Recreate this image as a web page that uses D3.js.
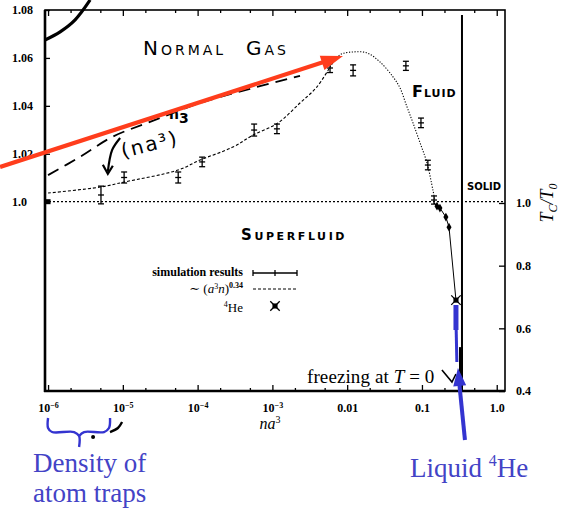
<!DOCTYPE html>
<html>
<head>
<meta charset="utf-8">
<script src="https://cdn.jsdelivr.net/npm/d3@7"></script>
<style>
  body { margin: 0; background: #fff; }
  svg { display: block; }
</style>
</head>
<body>
<svg id="chart" width="574" height="512"></svg>
<script>
// ---- data (x = n a^3, y = Tc/T0) ----
var decades = [1e-6, 1e-5, 1e-4, 1e-3, 0.01, 0.1, 1];
var xTickBase = ["10", "10", "10", "10", "0.01", "0.1", "1.0"];
var xTickExp = ["\u22126", "\u22125", "\u22124", "\u22123", "", "", ""];
var leftTicks = [1.0, 1.02, 1.04, 1.06, 1.08];
var rightTicks = [0.4, 0.6, 0.8, 1.0];

// simulation results (left axis)
var simX = [5.1e-6, 1.04e-5, 5.5e-5, 1.15e-4, 5.7e-4, 1.15e-3, 5.9e-3, 0.012, 0.061, 0.097, 0.12, 0.145];
var simY = [1.0028, 1.0101, 1.0101, 1.0166, 1.0299, 1.0304, 1.0558, 1.0548, 1.0567, 1.0329, 1.0153, 1.0007];
var simErr = [0.0037, 0.0023, 0.0023, 0.002, 0.0025, 0.002, 0.0019, 0.0023, 0.0019, 0.002, 0.002, 0.0017];
var idealX = [1e-6], idealY = [1.0];

// ~(a^3 n)^0.34 fit and its continuation (left axis)
var fitX = [1e-6, 4.96e-6, 1.04e-5, 5.47e-5, 1.08e-4, 2.97e-4, 5.5e-4, 1.19e-3, 2.34e-3, 3.94e-3, 5.9e-3,
            8.0e-3, 0.012, 0.0184, 0.0275, 0.041, 0.0508, 0.063, 0.0758, 0.0945, 0.1167, 0.140, 0.149];
var fitY = [1.0036, 1.0061, 1.0082, 1.0132, 1.0174, 1.0228, 1.0278, 1.0329, 1.0412, 1.0479, 1.0562,
            1.0613, 1.0625, 1.0621, 1.0583, 1.0521, 1.0475, 1.0396, 1.0329, 1.0245, 1.0162, 1.0049, 1.0007];
var fitSplit = 10;

// high density points (right axis), last one is 4He
var hiX = [0.145, 0.159, 0.174, 0.209, 0.23, 0.285];
var hiY = [1.0, 0.990, 0.984, 0.955, 0.923, 0.69];
var heX = [0.285], heY = [0.69];
var freezeX = 0.343;

// hand-drawn annotations, in data units
var arcX = [9.1e-7, 1.45e-6, 2.3e-6, 3.65e-6], arcY = [1.0675, 1.0709, 1.0759, 1.0842];
var handX = [1e-6, 2.68e-6, 7.18e-6, 2.31e-5, 1.08e-4, 5.02e-4, 2.34e-3];
var handY = [1.0111, 1.0187, 1.027, 1.0333, 1.0412, 1.0471, 1.0525];
var hookX = [9.2e-6, 7.2e-6, 6.3e-6], hookY = [1.0266, 1.0216, 1.0125];
var redX = [2.28e-7, 8.8e-3], redY = [1.0145, 1.0608];
// blue marks (right axis)
var blueBarX = [0.285, 0.285], blueBarY = [0.6745, 0.5947];
var blueThinX = [0.287, 0.293], blueThinY = [0.5947, 0.4926];
var blueArrowX = [0.376, 0.303], blueArrowY = [0.2436, 0.4734];
var braceX = [1e-6, 1e-6, 1.13e-6, 2.23e-6, 2.6e-6, 2.6e-6];
var braceY = [0.3138, 0.2819, 0.2691, 0.2691, 0.2564, 0.2213];
var brace2X = [2.6e-6, 3.03e-6, 5.6e-6, 6.53e-6, 6.74e-6];
var brace2Y = [0.2564, 0.2691, 0.2691, 0.2819, 0.3138];
var squiggleX = [6.74e-6, 8.6e-6, 9.77e-6], squiggleY = [0.2691, 0.282, 0.301];
var freezeArrowX = [0.185, 0.252, 0.285], freezeArrowY = [0.467, 0.4287, 0.4543];

var RED = "#ff3d1c", BLUE = "#3434d0", BLUE_TXT = "#4343c6";
var SERIF = "'Liberation Serif', 'DejaVu Serif', serif";
var HAND = "'DejaVu Sans', sans-serif";

var svg = d3.select("#chart");
svg.append("rect").attr("width", 574).attr("height", 512).attr("fill", "#fff");

// scales
var x = d3.scaleLog().domain([9.1e-7, 1.29]).range([45, 505]);
var yL = d3.scaleLinear().domain([0.921, 1.08]).range([391, 10]);
var yR = d3.scaleLinear().domain([0.4, 1.0]).range([391, 203]);

function pts(xs, ys, ys_scale) {
  return xs.map(function (v, i) { return [x(v), ys_scale(ys[i])]; });
}
var smooth = d3.line().curve(d3.curveCatmullRom);
var straight = d3.line();

function arrowHead(p0, p1, len, wid) {
  var a = Math.atan2(p1[1] - p0[1], p1[0] - p0[0]);
  var bx = p1[0] - len * Math.cos(a), by = p1[1] - len * Math.sin(a);
  var nx = -Math.sin(a) * wid / 2, ny = Math.cos(a) * wid / 2;
  return [[p1[0], p1[1]], [bx + nx, by + ny], [bx - nx, by - ny]];
}

// axes
function styleAxis(g) {
  g.select(".domain").remove();
  g.selectAll(".tick line").attr("stroke", "#000").attr("stroke-width", 1.3);
  g.attr("font-family", SERIF).attr("font-size", 12).attr("font-weight", "bold");
  g.selectAll(".tick text").attr("fill", "#000");
}
var minor = [];
decades.forEach(function (d) { [2, 5].forEach(function (m) { if (d * m < 1.29) minor.push(d * m); }); });

svg.append("g").attr("transform", "translate(0,391)")
  .call(d3.axisBottom(x).tickValues(decades).tickSize(-6).tickPadding(12).tickFormat(""))
  .call(styleAxis)
  .selectAll(".tick text").each(function (d, i) {
    var t = d3.select(this);
    t.append("tspan").text(xTickBase[i]);
    if (xTickExp[i]) t.append("tspan").attr("dy", "-0.45em").attr("font-size", 8).text(xTickExp[i]);
  });
svg.append("g").attr("transform", "translate(0,391)")
  .call(d3.axisBottom(x).tickValues(minor).tickSize(-3).tickFormat(""))
  .call(styleAxis);
svg.append("g").attr("transform", "translate(0,10)")
  .call(d3.axisTop(x).tickValues(decades).tickSize(-6).tickFormat(""))
  .call(styleAxis);
svg.append("g").attr("transform", "translate(0,10)")
  .call(d3.axisTop(x).tickValues(minor).tickSize(-3).tickFormat(""))
  .call(styleAxis);

svg.append("g").attr("transform", "translate(45,0)")
  .call(d3.axisLeft(yL).tickValues(leftTicks).tickSize(-5)
    .tickFormat(function (d) { return d === 1 ? "1.0" : d3.format(".2f")(d); }))
  .call(styleAxis)
  .selectAll(".tick text").attr("text-anchor", "start").attr("x", -33);

svg.append("g").attr("transform", "translate(505,0)")
  .call(d3.axisRight(yR).tickValues(rightTicks).tickSize(-6).tickPadding(11).tickFormat(d3.format(".1f")))
  .call(styleAxis);

// frame
svg.append("rect").attr("x", x.range()[0]).attr("y", yL.range()[1])
  .attr("width", x.range()[1] - x.range()[0]).attr("height", yL.range()[0] - yL.range()[1])
  .attr("fill", "none").attr("stroke", "#000").attr("stroke-width", 1.6);
svg.append("line").attr("x1", 45).attr("x2", 45).attr("y1", yL.range()[1]).attr("y2", 392)
  .attr("stroke", "#000").attr("stroke-width", 2.6);
svg.append("line").attr("x1", 44).attr("x2", 505).attr("y1", 391).attr("y2", 391)
  .attr("stroke", "#000").attr("stroke-width", 2.6);

// Tc/T0 = 1 reference
svg.append("line").attr("x1", 45).attr("x2", 505).attr("y1", yL(1)).attr("y2", yL(1))
  .attr("stroke", "#000").attr("stroke-width", 1.3).attr("stroke-dasharray", "2,2");

// freezing line
svg.append("line").attr("x1", x(freezeX)).attr("x2", x(freezeX)).attr("y1", yR(1.6)).attr("y2", yR(0.4))
  .attr("stroke", "#000").attr("stroke-width", 2);
svg.append("line").attr("x1", x(freezeX) - 1).attr("x2", x(freezeX) - 1).attr("y1", yR(0.54)).attr("y2", yR(0.4))
  .attr("stroke", "#000").attr("stroke-width", 4);

// fit curve
var fitPts = pts(fitX, fitY, yL);
svg.append("path").attr("d", smooth(fitPts.slice(0, fitSplit + 1)))
  .attr("fill", "none").attr("stroke", "#000").attr("stroke-width", 1.1).attr("stroke-dasharray", "3,2");
svg.append("path").attr("d", smooth(fitPts.slice(fitSplit)))
  .attr("fill", "none").attr("stroke", "#000").attr("stroke-width", 1.1).attr("stroke-dasharray", "1.2,1.6");

// high density line + points
var hiPts = pts(hiX, hiY, yR);
svg.append("path").attr("d", straight(hiPts)).attr("fill", "none").attr("stroke", "#000").attr("stroke-width", 1);
svg.selectAll(".hi").data(hiPts.slice(1, -1)).join("path").attr("class", "hi")
  .attr("transform", function (d) { return "translate(" + d + ")"; })
  .attr("d", d3.symbol(d3.symbolDiamond, 22)).attr("fill", "#000");

// simulation error bars
var sim = simX.map(function (v, i) { return { x: v, y: simY[i], e: simErr[i] }; });
var eb = svg.selectAll(".eb").data(sim).join("g").attr("class", "eb")
  .attr("stroke", "#000").attr("stroke-width", 1.3);
eb.append("line").attr("x1", function (d) { return x(d.x); }).attr("x2", function (d) { return x(d.x); })
  .attr("y1", function (d) { return yL(d.y - d.e); }).attr("y2", function (d) { return yL(d.y + d.e); });
[-1, 0, 1].forEach(function (s) {
  eb.append("line").attr("x1", function (d) { return x(d.x) - 3; }).attr("x2", function (d) { return x(d.x) + 3; })
    .attr("y1", function (d) { return yL(d.y + s * d.e); }).attr("y2", function (d) { return yL(d.y + s * d.e); });
});
svg.selectAll(".ideal").data(pts(idealX, idealY, yL)).join("rect").attr("class", "ideal")
  .attr("x", function (d) { return d[0] - 2.5; }).attr("y", function (d) { return d[1] - 2.5; })
  .attr("width", 5).attr("height", 5).attr("fill", "#000");

// 4He marker
function heMark(g) {
  g.append("path").attr("d", d3.symbol(d3.symbolSquare, 26)).attr("fill", "#000");
  g.append("path").attr("d", d3.symbol(d3.symbolTimes, 60)).attr("stroke", "#000").attr("stroke-width", 1.3).attr("fill", "none");
}
svg.selectAll(".he").data(pts(heX, heY, yR)).join("g").attr("class", "he")
  .attr("transform", function (d) { return "translate(" + d + ")"; }).each(function () { heMark(d3.select(this)); });

// legend
var lg = svg.append("g").attr("font-family", SERIF).attr("font-size", 12).attr("fill", "#000");
lg.append("text").attr("x", 243).attr("y", 276).attr("text-anchor", "end").attr("font-weight", "bold").text("simulation results");
lg.append("line").attr("x1", 253).attr("x2", 297).attr("y1", 273).attr("y2", 273).attr("stroke", "#000").attr("stroke-width", 1.3);
[253, 275, 297].forEach(function (p) {
  lg.append("line").attr("x1", p).attr("x2", p).attr("y1", 270).attr("y2", 276).attr("stroke", "#000").attr("stroke-width", 1.3);
});
var fl = lg.append("text").attr("x", 243).attr("y", 293).attr("text-anchor", "end").attr("font-size", 13);
fl.append("tspan").text("\u223c (");
fl.append("tspan").attr("font-style", "italic").text("a");
fl.append("tspan").attr("font-size", 8).attr("dy", -4).text("3");
fl.append("tspan").attr("font-style", "italic").attr("dy", 4).text("n");
fl.append("tspan").text(")");
fl.append("tspan").attr("font-size", 8).attr("dy", -5).attr("font-weight", "bold").text("0.34");
lg.append("line").attr("x1", 253).attr("x2", 297).attr("y1", 289).attr("y2", 289)
  .attr("stroke", "#000").attr("stroke-width", 1).attr("stroke-dasharray", "3,2");
var hl = lg.append("text").attr("x", 243).attr("y", 312).attr("text-anchor", "end").attr("font-size", 13);
hl.append("tspan").attr("font-size", 8).attr("dy", -5).text("4");
hl.append("tspan").attr("dy", 5).text("He");
lg.append("g").attr("transform", "translate(275,306)").call(heMark);

// axis titles
var xl = svg.append("text").attr("x", 270).attr("y", 429).attr("text-anchor", "middle")
  .attr("font-family", SERIF).attr("font-style", "italic").attr("font-size", 16);
xl.append("tspan").text("na");
xl.append("tspan").attr("dy", -6).attr("font-size", 10).attr("font-style", "normal").text("3");
var yt = svg.append("text").attr("transform", "translate(553,203) rotate(-90)").attr("text-anchor", "middle")
  .attr("font-family", SERIF).attr("font-style", "italic").attr("font-size", 18);
yt.append("tspan").text("T");
yt.append("tspan").attr("font-size", 12).attr("dy", 4).text("C");
yt.append("tspan").attr("dy", -4).text("/T");
yt.append("tspan").attr("font-size", 12).attr("dy", 4).text("0");

// freezing at T = 0
var fz = svg.append("text").attr("x", 307).attr("y", 383).attr("font-family", SERIF).attr("font-size", 19)
  .attr("letter-spacing", 0.1);
fz.append("tspan").text("freezing at ");
fz.append("tspan").attr("font-style", "italic").text("T");
fz.append("tspan").text(" = 0");
svg.append("path").attr("d", straight(pts(freezeArrowX, freezeArrowY, yR)))
  .attr("fill", "none").attr("stroke", "#000").attr("stroke-width", 1.6);

// hand-drawn black marks
svg.append("path").attr("d", smooth(pts(arcX, arcY, yL))).attr("fill", "none").attr("stroke", "#000").attr("stroke-width", 3.2);
svg.append("path").attr("d", smooth(pts(handX, handY, yL))).attr("fill", "none").attr("stroke", "#000")
  .attr("stroke-width", 1.8).attr("stroke-dasharray", "12,7");
var hook = pts(hookX, hookY, yL);
svg.append("path").attr("d", smooth(hook)).attr("fill", "none").attr("stroke", "#000").attr("stroke-width", 2.2);
svg.append("path").attr("d", straight([[hook[2][0] - 5, hook[2][1] - 7], [hook[2][0], hook[2][1] + 2], [hook[2][0] + 5, hook[2][1] - 6]]))
  .attr("fill", "none").attr("stroke", "#000").attr("stroke-width", 2.2);

var hand = svg.append("g").attr("font-family", HAND).attr("fill", "#000");
var ng = hand.append("text").attr("x", 143).attr("y", 55).attr("letter-spacing", 3);
ng.append("tspan").attr("font-size", 20).text("N");
ng.append("tspan").attr("font-size", 14).text("ORMAL");
var gs = hand.append("text").attr("x", 246).attr("y", 55).attr("letter-spacing", 3);
gs.append("tspan").attr("font-size", 20).text("G");
gs.append("tspan").attr("font-size", 14).text("AS");
var fd = hand.append("text").attr("x", 412).attr("y", 97).attr("font-weight", "bold").attr("letter-spacing", 1);
fd.append("tspan").attr("font-size", 16).text("F");
fd.append("tspan").attr("font-size", 11).text("LUID");
hand.append("text").attr("x", 467).attr("y", 190).attr("font-weight", "bold").attr("font-size", 10).text("SOLID");
var sf = hand.append("text").attr("x", 241).attr("y", 240).attr("font-weight", "bold").attr("letter-spacing", 2.6);
sf.append("tspan").attr("font-size", 15).text("S");
sf.append("tspan").attr("font-size", 11).text("UPERFLUID");
hand.append("text").attr("x", 123).attr("y", 158).attr("font-size", 20).attr("letter-spacing", 2)
  .attr("transform", "rotate(-14,123,158)").text("(na\u00b3)");
var n3 = hand.append("text").attr("x", 169).attr("y", 119).attr("font-size", 14).attr("font-weight", "bold");
n3.append("tspan").text("n");
n3.append("tspan").attr("dy", 4).text("3");

// red arrow
var red = pts(redX, redY, yL);
svg.append("line").attr("x1", red[0][0]).attr("y1", red[0][1])
  .attr("x2", red[1][0] - 14).attr("y2", red[1][1] + 4.3)
  .attr("stroke", RED).attr("stroke-width", 4.2);
svg.append("polygon").attr("points", arrowHead(red[0], red[1], 22, 15).join(" ")).attr("fill", RED);

// blue marks
var bb = pts(blueBarX, blueBarY, yR);
svg.append("path").attr("d", straight(bb)).attr("stroke", BLUE).attr("stroke-width", 5);
svg.append("path").attr("d", straight(pts(blueThinX, blueThinY, yR))).attr("stroke", BLUE).attr("stroke-width", 3);
var ba = pts(blueArrowX, blueArrowY, yR);
svg.append("line").attr("x1", ba[0][0]).attr("y1", ba[0][1]).attr("x2", ba[1][0] + 1).attr("y2", ba[1][1] + 12)
  .attr("stroke", BLUE).attr("stroke-width", 4);
svg.append("polygon").attr("points", arrowHead(ba[0], ba[1], 18, 13).join(" ")).attr("fill", BLUE);
svg.append("path").attr("d", smooth(pts(braceX, braceY, yR))).attr("fill", "none").attr("stroke", BLUE).attr("stroke-width", 2.4);
svg.append("path").attr("d", smooth(pts(brace2X, brace2Y, yR))).attr("fill", "none").attr("stroke", BLUE).attr("stroke-width", 2.4);
svg.append("path").attr("d", smooth(pts(squiggleX, squiggleY, yR))).attr("fill", "none").attr("stroke", "#000").attr("stroke-width", 2.4);
svg.append("circle").attr("cx", x(4.0e-6)).attr("cy", yR(0.2528)).attr("r", 2).attr("fill", "#000");

var bt = svg.append("g").attr("font-family", SERIF).attr("font-size", 27).attr("fill", BLUE_TXT);
bt.append("text").attr("x", 33).attr("y", 472).text("Density of");
bt.append("text").attr("x", 33).attr("y", 502).text("atom traps");
var lq = bt.append("text").attr("x", 410).attr("y", 477);
lq.append("tspan").text("Liquid ");
lq.append("tspan").attr("font-size", 16).attr("dy", -11).text("4");
lq.append("tspan").attr("dy", 11).text("He");
</script>
</body>
</html>
